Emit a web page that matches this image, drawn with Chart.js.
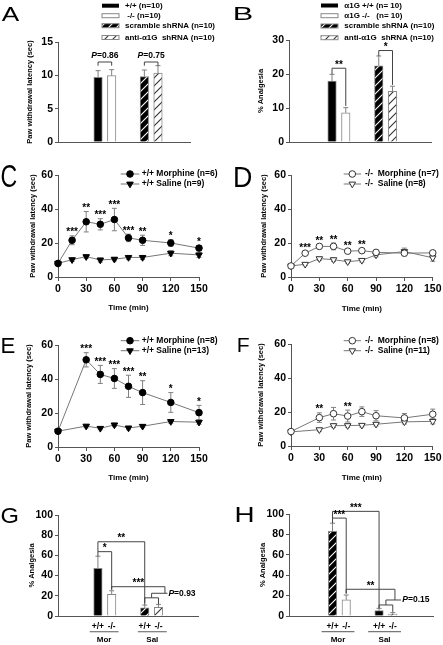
<!DOCTYPE html>
<html><head><meta charset="utf-8"><title>Figure</title>
<script src="https://cdn.jsdelivr.net/npm/chart.js@4.4.1/dist/chart.umd.min.js"></script>
<style>
html,body{margin:0;padding:0;background:#fff;}
body{width:443px;height:645px;position:relative;overflow:hidden;}
canvas{position:absolute;display:block;}
</style></head>
<body>
<canvas id="cA" style="left:0;top:0"></canvas>
<canvas id="cB" style="left:221px;top:0"></canvas>
<canvas id="cC" style="left:0;top:160px"></canvas>
<canvas id="cD" style="left:221px;top:160px"></canvas>
<canvas id="cE" style="left:0;top:325px"></canvas>
<canvas id="cF" style="left:221px;top:325px"></canvas>
<canvas id="cG" style="left:0;top:490px"></canvas>
<canvas id="cH" style="left:221px;top:490px"></canvas>
<script>
// ---------------- data ----------------
const legendA = ['+/+ (n=10)', ' -/- (n=10)', 'scramble shRNA (n=10)', 'anti-\u03b11G  shRNA (n=10)'];
const latencyA = [9.7, 9.95, 9.8, 10.35];
const latencyAErr = [1.0, 0.9, 1.0, 1.1];
const pValuesA = ['0.86', '0.75'];

const legendB = ['\u03b11G +/+ (n= 10)', '\u03b11G -/-   (n= 10)', 'scramble shRNA (n=10)', 'anti-\u03b11G  shRNA (n=10)'];
const analgesiaB = [17.9, 8.6, 22.4, 14.9];
const analgesiaBErr = [2.0, 1.5, 2.9, 1.5];
const sigB = ['**', '*'];

const timeTicks = [0, 30, 60, 90, 120, 150];
const timeCD = [0, 15, 30, 45, 60, 75, 90, 120, 150];
const timeEF = [0, 30, 45, 60, 75, 90, 120, 150];

const legendC = ['+/+ Morphine (n=6)', '+/+ Saline (n=9)'];
const morC = [8, 21.6, 32.5, 31, 33.8, 23, 21.6, 20, 17];
const morCErr = [0.8, 2.6, 6, 3.3, 6.6, 2.2, 3, 2, 1.5];
const salC = [8, 10.2, 12, 10, 10.5, 11.5, 11.5, 14, 13];
const salCErr = [0.6, 1, 1, 1.2, 1, 1.2, 1.2, 1.5, 1.5];
const sigC = ['', '***', '**', '***', '***', '***', '**', '*', '*'];

const legendD = ['-/-  Morphine (n=7)', '-/-  Saline (n=8)'];
const morD = [6.5, 14, 18, 18, 15.2, 15.5, 14.5, 14, 14.2];
const morDErr = [0.8, 1, 1.2, 2, 1.2, 1.2, 1.2, 1.5, 1.3];
const salD = [6.5, 7.5, 10.8, 10.2, 9, 9.8, 13, 15, 11.3];
const salDErr = [0.5, 0.8, 1, 1, 0.8, 1, 1.2, 2, 2];
const sigD = ['', '***', '**', '**', '**', '**', '', '', ''];

const legendE = ['+/+ Morphine (n=8)', '+/+ Saline (n=13)'];
const morE = [9.3, 51.3, 42.7, 40.3, 35.7, 32, 26.2, 20.2];
const morEErr = [1, 4.2, 5.3, 5.8, 6.5, 7, 5.8, 4.3];
const salE = [9.3, 12.3, 11, 13, 11.2, 12.2, 15, 14.6];
const salEErr = [0.6, 1, 0.8, 1, 1, 0.8, 1, 1.2];
const sigE = ['', '***', '***', '***', '***', '**', '*', '*'];

const legendF = ['-/-  Morphine (n=8)', '-/-  Saline (n=11)'];
const morF = [8.5, 16.7, 19, 17.6, 20.2, 17.8, 16.5, 18.7];
const morFErr = [0.8, 2.8, 3.7, 3.5, 2.8, 3, 2.6, 3];
const salF = [8.3, 9.6, 12, 12, 12.2, 12.8, 14.2, 14.5];
const salFErr = [0.6, 0.9, 1, 1, 1, 1, 1.2, 1.5];
const sigF = ['', '**', '', '**', '', '', '', ''];

const genotypesGH = ['+/+', '-/-', '+/+', '-/-'];
const treatmentsGH = ['Mor', 'Sal'];
const analgesiaG = [47.2, 21.5, 8, 8.5];
const analgesiaGErr = [12, 3.5, 2.8, 3];
const pValueG = '0.93';
const analgesiaH = [83, 15.8, 5.2, 2];
const analgesiaHErr = [8, 4.8, 2.3, 1.3];
const pValueH = '0.15';

// ---------------- styling helpers ----------------
const FONT = "'Liberation Sans', Arial, Helvetica, sans-serif";
const AXC = '#555', ERRC = '#808080', BRC = '#444', LINEC = '#777';
const SLOT = [0, 1, 3.4, 4.4];

function hatch(bg, fg) {
  const c = document.createElement('canvas'); c.width = 8; c.height = 8;
  const g = c.getContext('2d');
  g.fillStyle = bg; g.fillRect(0, 0, 8, 8);
  g.strokeStyle = fg; g.lineWidth = 1.1;
  g.beginPath();
  g.moveTo(-1, 9); g.lineTo(9, -1);
  g.moveTo(-1, 1); g.lineTo(1, -1);
  g.moveTo(7, 9); g.lineTo(9, 7);
  g.stroke();
  return g.createPattern(c, 'repeat');
}
const HB = hatch('#000', '#fff'), HW = hatch('#fff', '#333');

function fnt(size, weight, style) { return (style || 'normal') + ' ' + (weight || 'bold') + ' ' + size + 'px ' + FONT; }
function txt(ctx, s, x, y, size, align, base, weight, style) {
  ctx.save(); ctx.font = fnt(size, weight, style); ctx.fillStyle = '#000';
  ctx.textAlign = align || 'center'; ctx.textBaseline = base || 'middle';
  ctx.fillText(s, x, y); ctx.restore();
}
function pTxt(ctx, val, x, y, size, align) {
  ctx.save(); ctx.fillStyle = '#000'; ctx.textBaseline = 'middle'; ctx.textAlign = 'left';
  ctx.font = fnt(size, 'bold', 'italic'); const w1 = ctx.measureText('P').width;
  ctx.font = fnt(size, 'bold'); const rest = '=' + val; const w2 = ctx.measureText(rest).width;
  const x0 = align === 'center' ? x - (w1 + w2) / 2 : x;
  ctx.font = fnt(size, 'bold', 'italic'); ctx.fillText('P', x0, y);
  ctx.font = fnt(size, 'bold'); ctx.fillText(rest, x0 + w1, y);
  ctx.restore();
}
function letter(ctx, ch, b) {
  ctx.save(); ctx.font = 'normal 20px ' + FONT; ctx.fillStyle = '#000';
  ctx.textAlign = 'left'; ctx.textBaseline = 'alphabetic';
  const m = ctx.measureText(ch);
  const gw = m.actualBoundingBoxLeft + m.actualBoundingBoxRight;
  const gh = m.actualBoundingBoxAscent + m.actualBoundingBoxDescent;
  ctx.translate(b[0], b[1]); ctx.scale((b[2] - b[0]) / gw, (b[3] - b[1]) / gh);
  ctx.fillText(ch, m.actualBoundingBoxLeft, m.actualBoundingBoxAscent);
  ctx.restore();
}
function marker(ctx, kind, x, y, r, open) {
  ctx.save(); ctx.beginPath();
  if (kind === 'tri') {
    for (let k = 0; k < 3; k++) {
      const a = Math.PI + k * 2 * Math.PI / 3;
      const px = x + Math.sin(a) * r, py = y - Math.cos(a) * r;
      if (k === 0) ctx.moveTo(px, py); else ctx.lineTo(px, py);
    }
    ctx.closePath();
  } else ctx.arc(x, y, r, 0, Math.PI * 2);
  ctx.fillStyle = open ? '#fff' : '#000'; ctx.fill();
  ctx.strokeStyle = open ? '#333' : '#000'; ctx.lineWidth = 1; ctx.stroke();
  ctx.restore();
}

function yAxis(min, max, step, title, width) {
  return {
    type: 'linear', min: min, max: max,
    ticks: { stepSize: step, color: '#000', padding: 2, font: { family: FONT, size: 10.5, weight: 'bold' } },
    grid: { display: true, drawOnChartArea: false, drawTicks: true, tickLength: 3, color: AXC },
    border: { display: true, color: AXC },
    title: { display: true, text: title, color: '#000', padding: 0, font: { family: FONT, size: 7.5, weight: 'bold' } },
    afterFit: function (sc) { sc.width = width; }
  };
}
function xBar(min, max, height, labels) {
  const s = {
    type: 'linear', min: min, max: max, offset: false,
    grid: { display: false, drawTicks: false }, border: { display: true, color: AXC },
    afterFit: function (sc) { sc.height = height; }
  };
  if (labels) {
    s.afterBuildTicks = function (sc) { sc.ticks = SLOT.map(function (v) { return { value: v }; }); };
    s.ticks = { autoSkip: false, maxRotation: 0, padding: 6, color: '#000',
      font: { family: FONT, size: 8.5, weight: 'bold' }, callback: function (v, i) { return labels[i]; } };
  } else s.ticks = { display: false };
  return s;
}
function xTime(height) {
  return {
    type: 'linear', min: 0, max: 150, offset: false,
    afterBuildTicks: function (sc) { sc.ticks = timeTicks.map(function (v) { return { value: v }; }); },
    ticks: { autoSkip: false, maxRotation: 0, color: '#000', padding: 1.5, font: { family: FONT, size: 10.5, weight: 'bold' } },
    grid: { display: true, drawOnChartArea: false, drawTicks: true, tickLength: 4, color: AXC },
    border: { display: true, color: AXC },
    title: { display: true, text: 'Time (min)', color: '#000', padding: 0, font: { family: FONT, size: 8, weight: 'bold' } },
    afterFit: function (sc) { sc.height = height; }
  };
}
function barDS(vals, fills) {
  return { data: vals.map(function (v, i) { return { x: SLOT[i], y: v }; }),
    backgroundColor: fills, borderColor: '#888', borderWidth: 1, barThickness: 8.5 };
}
function lineDS(time, vals, kind, open) {
  return { type: 'line', data: time.map(function (t, i) { return { x: t, y: vals[i] }; }),
    borderColor: LINEC, borderWidth: 1, tension: 0, clip: false,
    pointStyle: kind === 'tri' ? 'triangle' : 'circle', pointRotation: kind === 'tri' ? 180 : 0,
    pointRadius: kind === 'tri' ? 3.8 : 3.3,
    pointBackgroundColor: open ? '#fff' : '#000', pointBorderColor: open ? '#333' : '#000', pointBorderWidth: 1 };
}
function make(id, w, h, pad, type, datasets, scales, hooks) {
  const cv = document.getElementById(id);
  cv.width = w; cv.height = h; cv.style.width = w + 'px'; cv.style.height = h + 'px';
  const plugin = { id: 'ov' + id };
  if (hooks.before) plugin.beforeDatasetsDraw = hooks.before;
  if (hooks.after) plugin.afterDatasetsDraw = hooks.after;
  if (hooks.last) plugin.afterDraw = hooks.last;
  return new Chart(cv, {
    type: type, data: { datasets: datasets },
    options: {
      responsive: false, maintainAspectRatio: false, animation: false, devicePixelRatio: 1, events: [],
      layout: { padding: { left: pad[0], top: pad[1], right: pad[2], bottom: pad[3] } },
      plugins: { legend: { display: false }, tooltip: { enabled: false } },
      scales: scales
    },
    plugins: [plugin]
  });
}

// ---- overlay drawing through the chart scales ----
function barErr(chart, vals, errs) {
  const ctx = chart.ctx, xs = chart.scales.x, ys = chart.scales.y;
  ctx.save(); ctx.strokeStyle = ERRC; ctx.lineWidth = 1; ctx.beginPath();
  vals.forEach(function (v, i) {
    const X = xs.getPixelForValue(SLOT[i]), Y0 = ys.getPixelForValue(v), Y1 = ys.getPixelForValue(v + errs[i]);
    ctx.moveTo(X, Y0); ctx.lineTo(X, Y1); ctx.moveTo(X - 2.5, Y1); ctx.lineTo(X + 2.5, Y1);
  });
  ctx.stroke(); ctx.restore();
}
function bracket(chart, b) {
  const ctx = chart.ctx, xs = chart.scales.x, ys = chart.scales.y;
  const X1 = xs.getPixelForValue(b.x1), X2 = xs.getPixelForValue(b.x2), T = ys.getPixelForValue(b.top);
  ctx.save(); ctx.strokeStyle = BRC; ctx.lineWidth = 1; ctx.beginPath();
  ctx.moveTo(X1, ys.getPixelForValue(b.y1)); ctx.lineTo(X1, T); ctx.lineTo(X2, T); ctx.lineTo(X2, ys.getPixelForValue(b.y2));
  ctx.stroke(); ctx.restore();
  if (b.s) txt(ctx, b.s, (X1 + X2) / 2, T - 0.5, 10, 'center', 'alphabetic');
  if (b.p) pTxt(ctx, b.p, (X1 + X2) / 2, T - 6.3, 8.5, 'center');
}
function poly(chart, pts) {
  const ctx = chart.ctx, xs = chart.scales.x, ys = chart.scales.y;
  ctx.save(); ctx.strokeStyle = BRC; ctx.lineWidth = 1; ctx.beginPath();
  pts.forEach(function (p, i) {
    const X = xs.getPixelForValue(p[0]), Y = ys.getPixelForValue(p[1]);
    if (i === 0) ctx.moveTo(X, Y); else ctx.lineTo(X, Y);
  });
  ctx.stroke(); ctx.restore();
}
function barLegend(ctx, labels, fills, x0, x1, tx, rows) {
  labels.forEach(function (lab, i) {
    const y = rows[i];
    ctx.save(); ctx.fillStyle = fills[i]; ctx.fillRect(x0, y - 2, x1 - x0, 4);
    if (fills[i] !== '#000') { ctx.strokeStyle = '#888'; ctx.lineWidth = 1; ctx.strokeRect(x0, y - 2, x1 - x0, 4); }
    ctx.restore();
    txt(ctx, lab, tx, y, 8, 'left');
  });
}
function lineLegend(ctx, labels, kinds, open, L) {
  labels.forEach(function (lab, i) {
    const y = L.rows[i];
    ctx.save(); ctx.strokeStyle = LINEC; ctx.lineWidth = 1; ctx.beginPath();
    ctx.moveTo(L.x0, y); ctx.lineTo(L.x1, y); ctx.stroke(); ctx.restore();
    marker(ctx, kinds[i], L.mx, y, kinds[i] === 'tri' ? 3.8 : 3.3, open);
    txt(ctx, lab, L.tx, y, 8.5, 'left');
  });
}
function lineErr(chart, time, vals, errs) {
  const ctx = chart.ctx, xs = chart.scales.x, ys = chart.scales.y;
  ctx.save(); ctx.strokeStyle = ERRC; ctx.lineWidth = 1; ctx.beginPath();
  vals.forEach(function (v, i) {
    const e = errs[i]; if (!e) return;
    const X = xs.getPixelForValue(time[i]), Y1 = ys.getPixelForValue(v + e), Y2 = ys.getPixelForValue(v - e);
    ctx.moveTo(X, Y1); ctx.lineTo(X, Y2);
    ctx.moveTo(X - 2.5, Y1); ctx.lineTo(X + 2.5, Y1);
    ctx.moveTo(X - 2.5, Y2); ctx.lineTo(X + 2.5, Y2);
  });
  ctx.stroke(); ctx.restore();
}
function stars(chart, time, vals, errs, sig) {
  const xs = chart.scales.x, ys = chart.scales.y;
  sig.forEach(function (s, i) {
    if (!s) return;
    txt(chart.ctx, s, xs.getPixelForValue(time[i]), ys.getPixelForValue(vals[i] + errs[i]) - 0.5, 10, 'center', 'alphabetic');
  });
}
function groupLabels(chart, spans, y1, y2) {
  const ctx = chart.ctx, xs = chart.scales.x;
  spans.forEach(function (sp, i) {
    const a = xs.getPixelForValue(sp[0]), b = xs.getPixelForValue(sp[1]);
    ctx.save(); ctx.strokeStyle = '#777'; ctx.lineWidth = 1.2; ctx.beginPath();
    ctx.moveTo(a, y1); ctx.lineTo(b, y1); ctx.stroke(); ctx.restore();
    txt(ctx, treatmentsGH[i], (a + b) / 2, y2, 8, 'center');
  });
}

// ---------------- Panel A ----------------
const fillsAB = ['#000', '#fff', HB, HW];
make('cA', 221, 160, [25.5, 42, 31, 0], 'bar', [barDS(latencyA, fillsAB)],
  { x: xBar(-2.94, 6.75, 18), y: yAxis(0, 15, 5, 'Paw withdrawal latency (sec)', 32.5) },
  { after: function (c) {
      barErr(c, latencyA, latencyAErr);
      bracket(c, { x1: SLOT[0], x2: SLOT[1], top: 12, y1: 11.45, y2: 11.45, p: pValuesA[0] });
      bracket(c, { x1: SLOT[2], x2: SLOT[3], top: 12, y1: 11.45, y2: 11.45, p: pValuesA[1] });
    },
    last: function (c) {
      barLegend(c.ctx, legendA, fillsAB, 102, 119, 125, [5.7, 15.7, 25.7, 37.5]);
      letter(c.ctx, 'A', [1.7, 6, 20, 20.7]);
    } });

// ---------------- Panel B ----------------
make('cB', 222, 160, [35.5, 40, 12, 0], 'bar', [barDS(analgesiaB, fillsAB)],
  { x: xBar(-3.13, 7.2, 18), y: yAxis(0, 30, 10, '% Analgesia', 32.5) },
  { after: function (c) {
      barErr(c, analgesiaB, analgesiaBErr);
      bracket(c, { x1: SLOT[0], x2: SLOT[1], top: 21.7, y1: 20, y2: 10.6, s: sigB[0] });
      bracket(c, { x1: SLOT[2], x2: SLOT[3], top: 26.9, y1: 25.3, y2: 16.8, s: sigB[1] });
    },
    last: function (c) {
      barLegend(c.ctx, legendB, fillsAB, 100, 117, 123.3, [5.5, 15.7, 26, 37.7]);
      letter(c.ctx, 'B', [13.3, 6.7, 31.7, 20]);
    } });

// ---------------- Panels C-F ----------------
function linePanel(id, w, pad, yW, xH, time, mor, morErr, sal, salErr, sig, open, legend, L, lch, lbox) {
  make(id, w, 165, pad, 'line',
    [lineDS(time, mor, 'circle', open), lineDS(time, sal, 'tri', open)],
    { x: xTime(xH), y: yAxis(0, 60, 20, 'Paw withdrawal latency (sec)', yW) },
    { before: function (c) { lineErr(c, time, sal, salErr); lineErr(c, time, mor, morErr); },
      after: function (c) { stars(c, time, mor, morErr, sig); },
      last: function (c) { lineLegend(c.ctx, legend, ['circle', 'tri'], open, L); letter(c.ctx, lch, lbox); } });
}
linePanel('cC', 221, [28.5, 15, 22, 12.2], 29.5, 35.8, timeCD, morC, morCErr, salC, salCErr, sigC, false, legendC,
  { x0: 120.7, x1: 139.3, mx: 130, tx: 141.7, rows: [14, 24] }, 'C', [1.7, 5, 16.7, 26.7]);
linePanel('cD', 222, [38.8, 15, 9, 11.2], 31.2, 36.8, timeCD, morD, morDErr, salD, salDErr, sigD, true, legendD,
  { x0: 122.7, x1: 140, mx: 131.3, tx: 144, rows: [14, 24] }, 'D', [13.3, 6.7, 30.7, 26.7]);
linePanel('cE', 221, [24.5, 20, 22, 7.2], 33.5, 35.8, timeEF, morE, morEErr, salE, salEErr, sigE, false, legendE,
  { x0: 120.7, x1: 139.3, mx: 130, tx: 141.7, rows: [15.7, 25.7] }, 'E', [1.7, 13.3, 15, 28.3]);
linePanel('cF', 222, [35.5, 19, 9, 7.5], 34.5, 36.5, timeEF, morF, morFErr, salF, salFErr, sigF, true, legendF,
  { x0: 122.7, x1: 140, mx: 131.3, tx: 144, rows: [15.7, 25.7] }, 'F', [16.7, 13.3, 28.3, 27.3]);

// ---------------- Panel G ----------------
make('cG', 221, 155, [27.2, 25, 23, 0], 'bar', [barDS(analgesiaG, ['#000', '#fff', HB, HW])],
  { x: xBar(-2.9, 7.27, 29, genotypesGH), y: yAxis(0, 100, 20, '% Analgesia', 30.8) },
  { after: function (c) {
      barErr(c, analgesiaG, analgesiaGErr);
      bracket(c, { x1: SLOT[0], x2: SLOT[1], top: 63.7, y1: 59.2, y2: 26, s: '*' });
      bracket(c, { x1: SLOT[0], x2: SLOT[2], top: 73.5, y1: 63.7, y2: 13, s: '**' });
      bracket(c, { x1: SLOT[1], x2: 4.87, top: 29, y1: 26, y2: 22.5, s: '***' });
      bracket(c, { x1: SLOT[2], x2: SLOT[3], top: 18, y1: 11, y2: 11.8 });
      poly(c, [[3.9, 18], [3.9, 22.5], [5.05, 22.5]]);
      pTxt(c.ctx, pValueG, c.scales.x.getPixelForValue(5.12), c.scales.y.getPixelForValue(22.5), 8.5, 'left');
    },
    last: function (c) {
      groupLabels(c, [[-0.6, 1.5], [2.9, 5.0]], 141.7, 150);
      letter(c.ctx, 'G', [1.7, 18.3, 18.3, 33.3]);
    } });

// ---------------- Panel H ----------------
make('cH', 222, 155, [37.2, 24, 10, 0], 'bar', [barDS(analgesiaH, [HB, '#fff', '#000', HW])],
  { x: xBar(-3.18, 7.34, 29, genotypesGH), y: yAxis(0, 100, 20, '% Analgesia', 30.8) },
  { after: function (c) {
      barErr(c, analgesiaH, analgesiaHErr);
      bracket(c, { x1: SLOT[0], x2: SLOT[2], top: 102.6, y1: 96, y2: 7.5, s: '***' });
      bracket(c, { x1: SLOT[0], x2: SLOT[1], top: 96, y1: 91, y2: 22, s: '***' });
      bracket(c, { x1: SLOT[1], x2: 4.56, top: 26.2, y1: 22, y2: 15.7, s: '**' });
      bracket(c, { x1: SLOT[2], x2: SLOT[3], top: 10.8, y1: 7.8, y2: 4 });
      poly(c, [[3.9, 10.8], [3.9, 15.7], [5.0, 15.7]]);
      pTxt(c.ctx, pValueH, c.scales.x.getPixelForValue(5.1), c.scales.y.getPixelForValue(15.7), 8.5, 'left');
    },
    last: function (c) {
      groupLabels(c, [[-0.8, 1.6], [2.6, 5.0]], 141.7, 150);
      letter(c.ctx, 'H', [15, 16.7, 31.7, 31.7]);
    } });
</script>
</body></html>
